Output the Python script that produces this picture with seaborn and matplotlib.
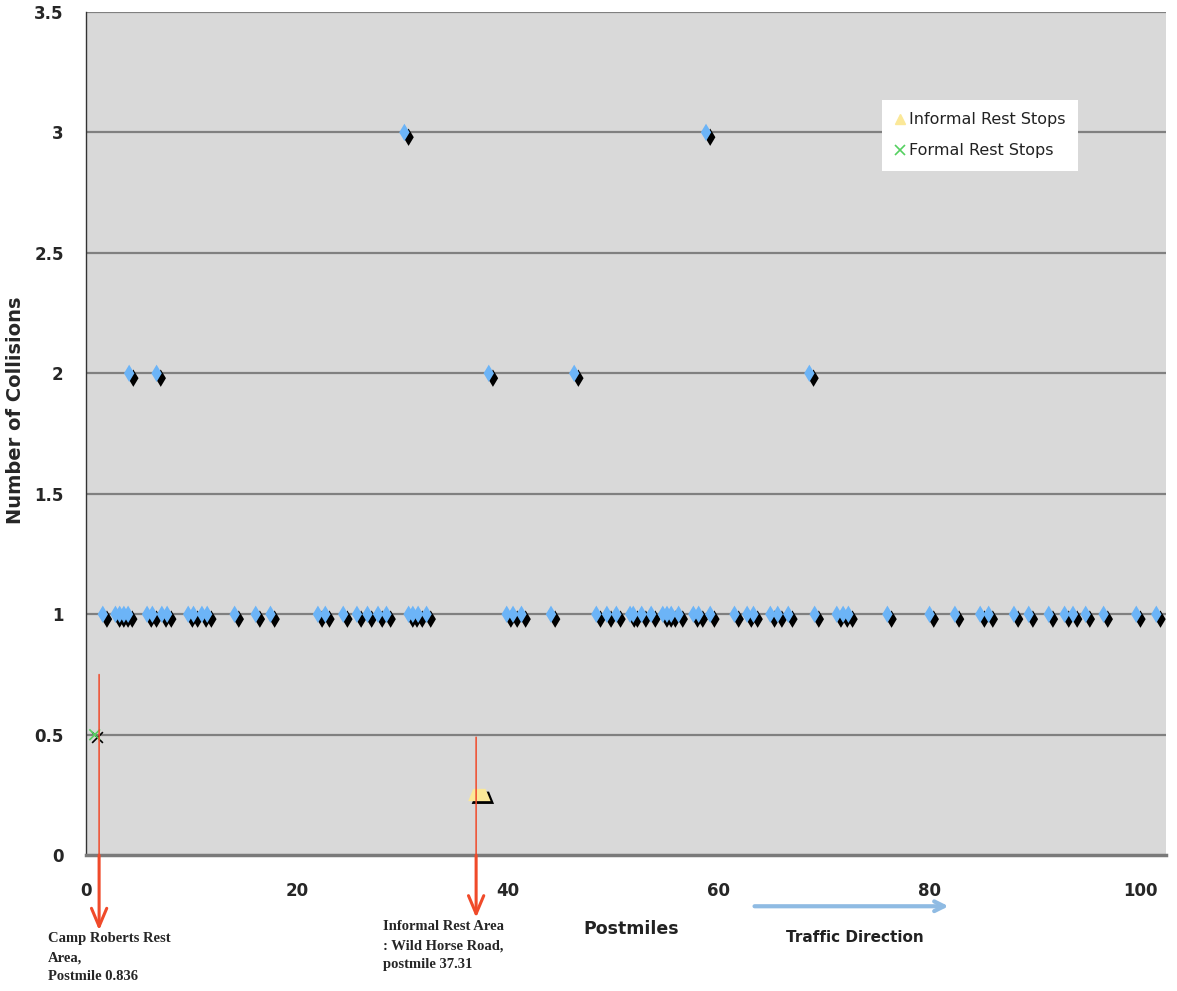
import matplotlib
matplotlib.use("Agg")
import matplotlib.pyplot as plt
import matplotlib.patheffects as pe
from matplotlib.lines import Line2D
import seaborn as sns
import pandas as pd

# collisions per postmile
pm_3 = [30.2, 58.8]
pm_2 = [4.1, 6.7, 38.2, 46.3, 68.6]
pm_1 = [1.6, 2.8, 3.2, 3.6, 4.0, 5.8, 6.3, 7.2, 7.7, 9.7, 10.2, 11.0, 11.5,
        14.1, 16.1, 17.5, 22.0, 22.7, 24.4, 25.7, 26.7, 27.7, 28.5, 30.6,
        31.0, 31.5, 32.3, 39.9, 40.5, 41.3, 44.1, 48.4, 49.4, 50.3, 51.6,
        51.9, 52.7, 53.6, 54.7, 55.1, 55.5, 56.2, 57.6, 58.1, 59.2, 61.5,
        62.7, 63.3, 64.9, 65.6, 66.6, 69.1, 71.2, 71.8, 72.3, 76.0, 80.0,
        82.4, 84.8, 85.6, 88.0, 89.4, 91.3, 92.8, 93.6, 94.8, 96.5, 99.6,
        101.5]

informal_pm = [37.31]
informal_val = [0.25]
formal_pm = [0.836]
formal_val = [0.5]

arrow_pm = [1.25, 37.0]
arrow_top = [0.75, 0.49]
arrow_tip = [-0.089, -0.074]   # axes fraction below the x axis

yticks = [0, 0.5, 1, 1.5, 2, 2.5, 3, 3.5]
xticks = [0, 20, 40, 60, 80, 100]

df = pd.DataFrame({
    "Postmiles": pm_3 + pm_2 + pm_1,
    "Collisions": [3] * len(pm_3) + [2] * len(pm_2) + [1] * len(pm_1),
})

sns.set_style("white", {"axes.facecolor": "#d9d9d9"})
plt.rcParams['font.family'] = ['DejaVu Sans']

fig = plt.figure(figsize=(11.77, 9.91), dpi=100)
ax = fig.add_axes([0.073, 0.137, 0.9175, 0.851])

shadow = [pe.SimplePatchShadow(offset=(3, -3.5), shadow_rgbFace='black', alpha=1.0),
          pe.Normal()]

# trapezoid-looking marker like the original's blurred triangle
trap = [(-1.0, -0.55), (1.0, -0.55), (0.55, 0.55), (-0.55, 0.55), (-1.0, -0.55)]

sns.scatterplot(data=df, x="Postmiles", y="Collisions", marker="d", s=78,
                color="#6cb4f7", edgecolor="none", linewidth=0,
                path_effects=shadow, ax=ax, zorder=4)
sns.scatterplot(x=informal_pm, y=informal_val, marker=trap, s=260,
                color="#fbe898", edgecolor="none", linewidth=0,
                path_effects=[pe.SimplePatchShadow(offset=(2.5, -2), shadow_rgbFace='black', alpha=1.0), pe.Normal()],
                ax=ax, zorder=4)
sns.scatterplot(x=formal_pm, y=formal_val, marker="x", s=60,
                color="#55d060", linewidth=1.2,
                path_effects=[pe.SimpleLineShadow(offset=(2, -2), shadow_color='black', alpha=1.0), pe.Normal()],
                ax=ax, zorder=4)

ax.set_xlim(0, 102.4)
ax.set_ylim(0, 3.5)
ax.set_xticks(xticks)
ax.set_yticks(yticks)
ax.set_yticklabels([f"{v:g}" for v in yticks])
for y in yticks[1:]:
    ax.axhline(y, color="#808080", lw=1.6, zorder=1)
ax.tick_params(axis="both", labelsize=12, direction="out", length=4, width=1, color="#555555")
ax.tick_params(axis="x", pad=15)
ax.tick_params(axis="y", pad=12)
for lab in ax.get_xticklabels() + ax.get_yticklabels():
    lab.set_fontweight("bold")

for s in ["top", "right"]:
    ax.spines[s].set_visible(False)
ax.spines["left"].set_color("#333333")
ax.spines["left"].set_linewidth(1.0)
ax.spines["bottom"].set_color("#7a7a7a")
ax.spines["bottom"].set_linewidth(2.5)

ax.set_xlabel("")
ax.set_ylabel("Number of Collisions", fontsize=14, fontweight="bold")
ax.yaxis.set_label_coords(-0.056, 0.528)

fig.text(0.536, 0.063, "Postmiles", fontsize=12.5, fontweight="bold",
         ha="center", va="center", color="#222222")
fig.text(0.726, 0.054, "Traffic Direction", fontsize=11, fontweight="bold",
         ha="center", va="center", color="#222222")

# red arrows to the rest areas: thin line down to the axis, thicker arrow below
for xa, ya, yt in zip(arrow_pm, arrow_top, arrow_tip):
    ax.annotate("", xy=(xa, 0), xycoords="data", xytext=(xa, ya),
                arrowprops=dict(arrowstyle="-", color="#f04a2a", lw=1.1,
                                shrinkA=0, shrinkB=0),
                annotation_clip=False, zorder=6)
    ax.annotate("", xy=(xa, yt), xycoords=("data", "axes fraction"),
                xytext=(xa, 0), textcoords="data",
                arrowprops=dict(arrowstyle="->,head_width=0.55,head_length=1.3",
                                color="#f04a2a", lw=2.2, shrinkA=0, shrinkB=0),
                annotation_clip=False, zorder=6)

# traffic direction arrow
ax.annotate("", xy=(81.8, -0.0605), xycoords=("data", "axes fraction"),
            xytext=(63.4, -0.0605), textcoords=("data", "axes fraction"),
            arrowprops=dict(arrowstyle="->,head_width=0.35,head_length=0.7",
                            color="#8fbbe3", lw=3, shrinkA=0, shrinkB=0),
            annotation_clip=False)

fig.text(0.041, 0.0595, "Camp Roberts Rest\nArea,\nPostmile 0.836",
         family="Liberation Serif", fontsize=10.5, fontweight="bold",
         ha="left", va="top", linespacing=1.6)
fig.text(0.325, 0.0716, "Informal Rest Area\n: Wild Horse Road,\npostmile 37.31",
         family="Liberation Serif", fontsize=10.5, fontweight="bold",
         ha="left", va="top", linespacing=1.6)

handles = [
    Line2D([], [], marker="^", ls="none", color="#fbe898", markersize=7),
    Line2D([], [], marker="x", ls="none", color="#55d060", markersize=7, mew=1.2),
]
leg = ax.legend(handles, ["Informal Rest Stops", "Formal Rest Stops"],
                loc="upper left", bbox_to_anchor=(0.737, 0.896), fontsize=11.5,
                frameon=True, fancybox=False, facecolor="white", edgecolor="none",
                framealpha=1, handlelength=0.7, handletextpad=0.2,
                labelspacing=1.0, borderpad=0.8, borderaxespad=0)
for t in leg.get_texts():
    t.set_color("#222222")

fig.savefig("out.png", dpi=100, facecolor="white")
